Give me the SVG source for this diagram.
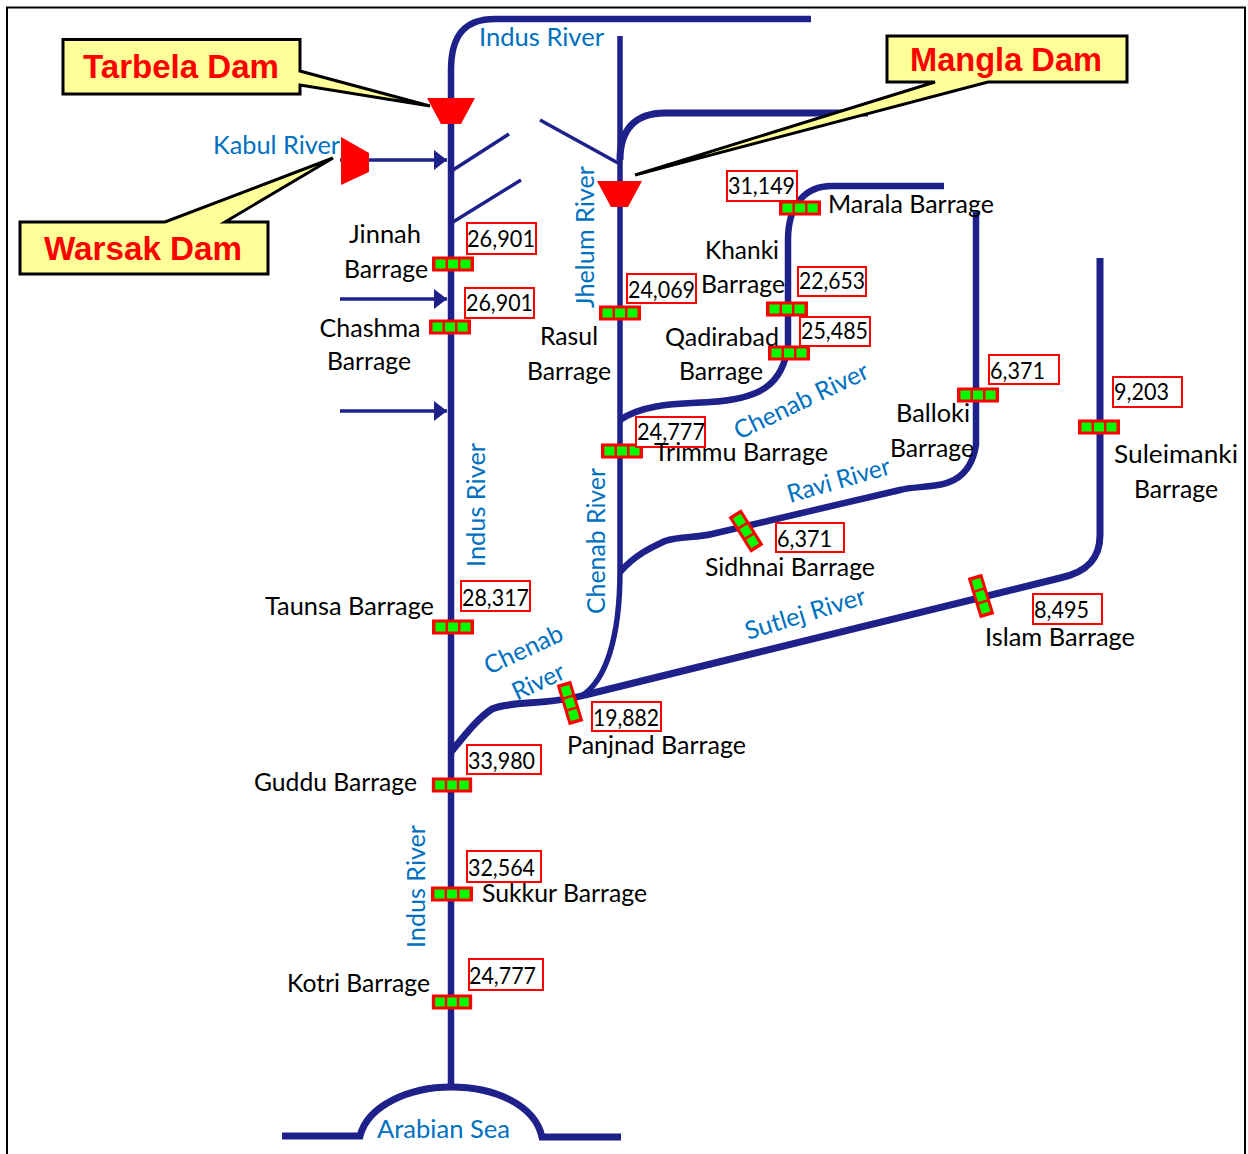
<svg xmlns="http://www.w3.org/2000/svg" xmlns:xlink="http://www.w3.org/1999/xlink" width="1248" height="1154" viewBox="0 0 1248 1154">
<style>
text{font-family:Lato,"Open Sans","Noto Sans",sans-serif}
.l{font-size:24.500px;fill:#000}
.c{text-anchor:middle}
.n{font-size:23px;fill:#000;font-variant-numeric:tabular-nums}
.b{font-size:25px;fill:#0070c0}
.d{font-family:"Liberation Sans",Arial,sans-serif;font-weight:700;font-size:33px;fill:#f00;text-anchor:middle}
.r{fill:none;stroke:#1f218a;stroke-width:6.500}
.w{stroke-width:7}
.j{stroke-width:5.500}
.t{fill:none;stroke:#1f218a;stroke-width:3.500}
.v{fill:#fff;stroke:#f00;stroke-width:2}
.call{fill:#ffff99;stroke:#000;stroke-width:3}
.dam{fill:#f00}
</style>
<defs>
<marker id="ah" markerUnits="userSpaceOnUse" markerWidth="14" markerHeight="20" refX="13" refY="10" orient="auto"><path d="M0,0L13,10L0,20Z" fill="#1f218a"/></marker>
<g id="bar"><rect x="-21" y="-7.500" width="42" height="15" fill="#f00"/><rect x="-17.500" y="-4.500" width="10" height="9" fill="#0f0"/><rect x="-5" y="-4.500" width="10" height="9" fill="#0f0"/><rect x="7.500" y="-4.500" width="10" height="9" fill="#0f0"/></g>
</defs>
<rect width="1248" height="1154" fill="#fff"/>
<path d="M7,1154V7.500H1245V1154" fill="none" stroke="#000" stroke-width="2"/>

<g id="connectors">
<path class="r" d="M451,1087V70C451,35 465,19 495,19H811"/>
<path class="r j" d="M620,36V570C620,640 605,680 583,695"/>
<path class="r w" d="M620,160C620,130 635,113 665,113H868"/>
<path class="r" d="M620,420C645,403 680,404 710,402C760,399 783,385 788,345V240C788,205 805,186 832,186H944"/>
<path class="r" d="M620,572C635,555 650,548 665,541C680,536 695,538 712,534L900,490C925,483 968,495 976,445V212"/>
<path class="r w" d="M451,752C465,735 478,718 492,709C510,701 550,705 585,695L735,658L1060,578C1088,572 1100,558 1100,535V258"/>
<path class="r w" d="M282,1136H360C368,1105 410,1087 451,1087C495,1087 535,1105 542,1137H621"/>
<path class="t" marker-end="url(#ah)" d="M340,160H447"/>
<path class="t" marker-end="url(#ah)" d="M340,299H447"/>
<path class="t" marker-end="url(#ah)" d="M340,411H447"/>
<path class="t" d="M453,170L509,134"/>
<path class="t" d="M453,222L521,180"/>
<path class="t" d="M540,120L618,163"/>
</g>

<g id="tarbela-dam"><path class="dam" d="M427,98H475L461,124H441Z"/></g>
<g id="mangla-dam"><path class="dam" d="M597,181H642L628,207H611Z"/></g>
<g id="warsak-dam"><path class="dam" d="M341,137L369,153V172L341,185Z"/></g>

<g id="tarbela-callout"><path class="call" d="M63,39.500H300V71L430,106L300,85V94H63Z"/><text class="d" x="181" y="78" textLength="196" lengthAdjust="spacingAndGlyphs">Tarbela Dam</text></g>
<g id="warsak-callout"><path class="call" d="M20,222H165L333,158L225,222H268V274H20Z"/><text class="d" x="143" y="260" textLength="198" lengthAdjust="spacingAndGlyphs">Warsak Dam</text></g>
<g id="mangla-callout"><path class="call" d="M887,36H1127V82H988L635,175L935,82H887Z"/><text class="d" x="1006" y="71" textLength="192" lengthAdjust="spacingAndGlyphs">Mangla Dam</text></g>

<g id="jinnah"><use xlink:href="#bar" href="#bar" x="453" y="264"/><rect class="v" x="467" y="223" width="69" height="31"/><text class="n" x="467" y="247" textLength="68" lengthAdjust="spacingAndGlyphs">26,901</text><text class="l c" x="385" y="243" textLength="72" lengthAdjust="spacingAndGlyphs">Jinnah</text><text class="l c" x="386" y="278" textLength="84" lengthAdjust="spacingAndGlyphs">Barrage</text></g>
<g id="chashma"><use xlink:href="#bar" href="#bar" x="450" y="327"/><rect class="v" x="465" y="288" width="69" height="30"/><text class="n" x="466" y="311" textLength="67" lengthAdjust="spacingAndGlyphs">26,901</text><text class="l c" x="370" y="337" textLength="101" lengthAdjust="spacingAndGlyphs">Chashma</text><text class="l c" x="369" y="370" textLength="84" lengthAdjust="spacingAndGlyphs">Barrage</text></g>
<g id="rasul"><use xlink:href="#bar" href="#bar" x="620" y="313"/><rect class="v" x="627" y="274" width="69" height="29"/><text class="n" x="628" y="298" textLength="67" lengthAdjust="spacingAndGlyphs">24,069</text><text class="l c" x="569" y="345" textLength="58" lengthAdjust="spacingAndGlyphs">Rasul</text><text class="l c" x="569" y="380" textLength="84" lengthAdjust="spacingAndGlyphs">Barrage</text></g>
<g id="marala"><use xlink:href="#bar" href="#bar" x="800" y="208"/><rect class="v" x="727" y="171" width="70" height="30"/><text class="n" x="728" y="194" textLength="67" lengthAdjust="spacingAndGlyphs">31,149</text><text class="l" x="828" y="213" textLength="166" lengthAdjust="spacingAndGlyphs">Marala Barrage</text></g>
<g id="khanki"><use xlink:href="#bar" href="#bar" x="787" y="309"/><rect class="v" x="798" y="267" width="68" height="29"/><text class="n" x="799" y="289" textLength="66" lengthAdjust="spacingAndGlyphs">22,653</text><text class="l c" x="742" y="259" textLength="74" lengthAdjust="spacingAndGlyphs">Khanki</text><text class="l c" x="743" y="293" textLength="84" lengthAdjust="spacingAndGlyphs">Barrage</text></g>
<g id="qadirabad"><use xlink:href="#bar" href="#bar" x="789" y="353"/><rect class="v" x="800" y="317" width="70" height="29"/><text class="n" x="801" y="339" textLength="67" lengthAdjust="spacingAndGlyphs">25,485</text><text class="l c" x="722" y="346" textLength="114" lengthAdjust="spacingAndGlyphs">Qadirabad</text><text class="l c" x="721" y="380" textLength="84" lengthAdjust="spacingAndGlyphs">Barrage</text></g>
<g id="trimmu"><use xlink:href="#bar" href="#bar" x="622" y="451"/><rect class="v" x="636" y="417" width="69" height="30"/><text class="n" x="637" y="440" textLength="68" lengthAdjust="spacingAndGlyphs">24,777</text><text class="l" x="654" y="461" textLength="174" lengthAdjust="spacingAndGlyphs">Trimmu Barrage</text></g>
<g id="balloki"><use xlink:href="#bar" href="#bar" x="978" y="395"/><rect class="v" x="989" y="355" width="70" height="29"/><text class="n" x="990" y="379" textLength="55" lengthAdjust="spacingAndGlyphs">6,371</text><text class="l c" x="933" y="422" textLength="74" lengthAdjust="spacingAndGlyphs">Balloki</text><text class="l c" x="932" y="457" textLength="84" lengthAdjust="spacingAndGlyphs">Barrage</text></g>
<g id="suleimanki"><use xlink:href="#bar" href="#bar" x="1099" y="427"/><rect class="v" x="1113" y="377" width="69" height="30"/><text class="n" x="1114" y="400" textLength="55" lengthAdjust="spacingAndGlyphs">9,203</text><text class="l c" x="1176" y="463" textLength="124" lengthAdjust="spacingAndGlyphs">Suleimanki</text><text class="l c" x="1176" y="498" textLength="84" lengthAdjust="spacingAndGlyphs">Barrage</text></g>
<g id="sidhnai"><use xlink:href="#bar" href="#bar" transform="translate(746,531) rotate(58)"/><rect class="v" x="776" y="523" width="68" height="29"/><text class="n" x="777" y="547" textLength="55" lengthAdjust="spacingAndGlyphs">6,371</text><text class="l" x="705" y="576" textLength="170" lengthAdjust="spacingAndGlyphs">Sidhnai Barrage</text></g>
<g id="islam"><use xlink:href="#bar" href="#bar" transform="translate(981,596) rotate(73)"/><rect class="v" x="1033" y="594" width="69" height="30"/><text class="n" x="1034" y="618" textLength="55" lengthAdjust="spacingAndGlyphs">8,495</text><text class="l" x="985" y="646" textLength="150" lengthAdjust="spacingAndGlyphs">Islam Barrage</text></g>
<g id="panjnad"><use xlink:href="#bar" href="#bar" transform="translate(570,703) rotate(73)"/><rect class="v" x="592" y="702" width="69" height="29"/><text class="n" x="593" y="726" textLength="66" lengthAdjust="spacingAndGlyphs">19,882</text><text class="l" x="567" y="754" textLength="179" lengthAdjust="spacingAndGlyphs">Panjnad Barrage</text></g>
<g id="taunsa"><use xlink:href="#bar" href="#bar" x="453" y="627"/><rect class="v" x="461" y="581" width="69" height="30"/><text class="n" x="462" y="606" textLength="67" lengthAdjust="spacingAndGlyphs">28,317</text><text class="l" x="265" y="615" textLength="169" lengthAdjust="spacingAndGlyphs">Taunsa Barrage</text></g>
<g id="guddu"><use xlink:href="#bar" href="#bar" transform="translate(452,785) scale(.96,1)"/><rect class="v" x="467" y="745" width="74" height="29"/><text class="n" x="468" y="769" textLength="67" lengthAdjust="spacingAndGlyphs">33,980</text><text class="l" x="254" y="791" textLength="163" lengthAdjust="spacingAndGlyphs">Guddu Barrage</text></g>
<g id="sukkur"><use xlink:href="#bar" href="#bar" x="452" y="894"/><rect class="v" x="467" y="851" width="74" height="31"/><text class="n" x="468" y="876" textLength="67" lengthAdjust="spacingAndGlyphs">32,564</text><text class="l" x="482" y="902" textLength="165" lengthAdjust="spacingAndGlyphs">Sukkur Barrage</text></g>
<g id="kotri"><use xlink:href="#bar" href="#bar" transform="translate(452,1002) scale(.96,1)"/><rect class="v" x="469" y="959" width="74" height="31"/><text class="n" x="469" y="984" textLength="67" lengthAdjust="spacingAndGlyphs">24,777</text><text class="l" x="287" y="992" textLength="143" lengthAdjust="spacingAndGlyphs">Kotri Barrage</text></g>

<g id="river-labels">
<text class="b" x="479" y="46" textLength="125" lengthAdjust="spacingAndGlyphs">Indus River</text>
<text class="b" x="213" y="154" textLength="127" lengthAdjust="spacingAndGlyphs">Kabul River</text>
<text class="b" transform="translate(594,308) rotate(-90)" textLength="142" lengthAdjust="spacingAndGlyphs">Jhelum River</text>
<text class="b" transform="translate(485,567) rotate(-90)" textLength="124" lengthAdjust="spacingAndGlyphs">Indus River</text>
<text class="b" transform="translate(605,614) rotate(-90)" textLength="146" lengthAdjust="spacingAndGlyphs">Chenab River</text>
<text class="b" transform="translate(425,948) rotate(-90)" textLength="123" lengthAdjust="spacingAndGlyphs">Indus River</text>
<text class="b" x="377" y="1138" textLength="133" lengthAdjust="spacingAndGlyphs">Arabian Sea</text>
<text class="b" transform="translate(739,440) rotate(-25.500)" textLength="146" lengthAdjust="spacingAndGlyphs">Chenab River</text>
<text class="b" transform="translate(790,503) rotate(-16)" textLength="106" lengthAdjust="spacingAndGlyphs">Ravi River</text>
<text class="b" transform="translate(748,640) rotate(-17)" textLength="125" lengthAdjust="spacingAndGlyphs">Sutlej River</text>
<text class="b" transform="translate(489,675) rotate(-25)" textLength="84" lengthAdjust="spacingAndGlyphs">Chenab</text>
<text class="b" transform="translate(517,701) rotate(-25)" textLength="55" lengthAdjust="spacingAndGlyphs">River</text>
</g>
</svg>
